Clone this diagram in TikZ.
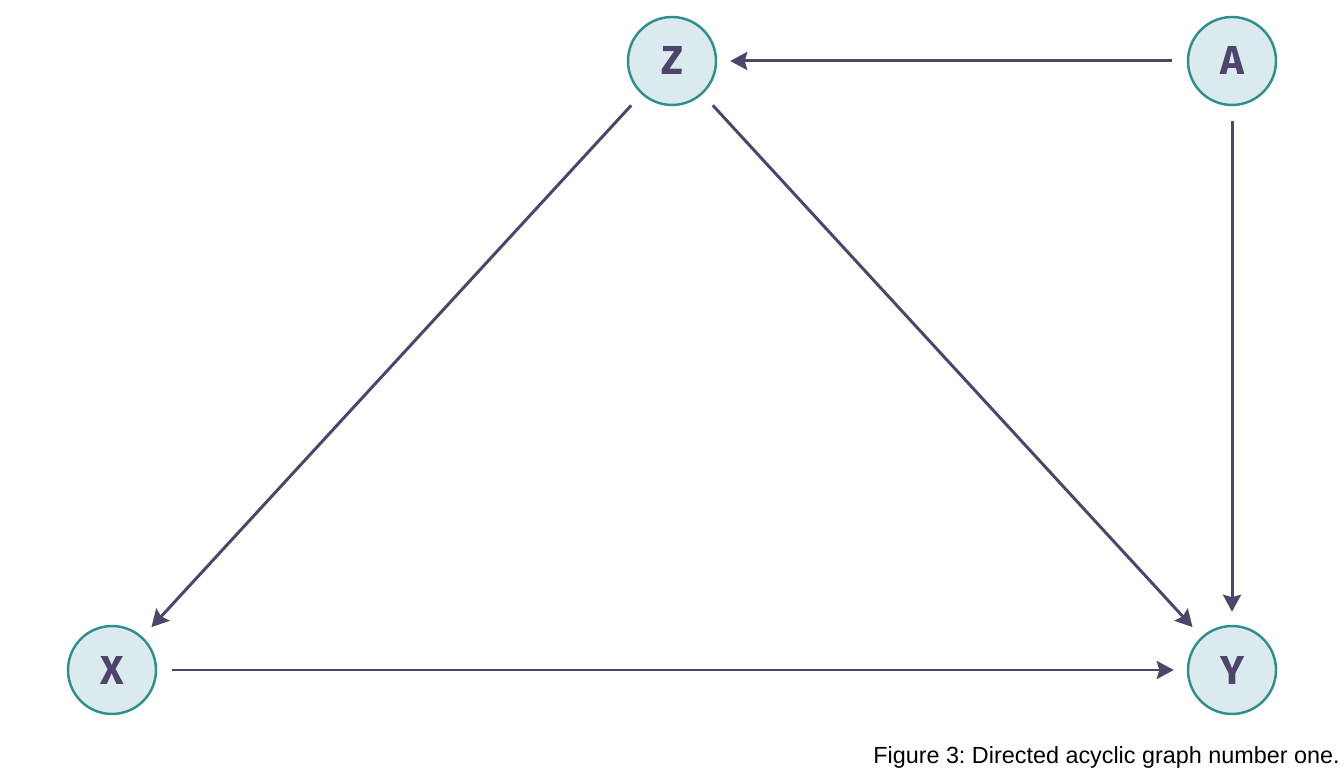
\documentclass[tikz,border=0pt]{standalone}
\usepackage{fontspec}
\setmainfont{Liberation Sans}
\newfontfamily\dagfont{Fira Sans Bold}
\usetikzlibrary{arrows.meta}
\definecolor{dagfill}{HTML}{DAEAEE}
\definecolor{dagline}{HTML}{2E8F8D}
\definecolor{dagtext}{HTML}{4F4469}
\frenchspacing
\begin{document}
\begin{tikzpicture}
  \useasboundingbox (0,0) rectangle (26.88,15.36);
  \begin{scope}[every node/.style={circle,draw=dagline,fill=dagfill,line width=1.4pt,
      minimum size=1.76cm,inner sep=0pt,text=dagtext,font=\dagfont\fontsize{23}{25}\selectfont}]
    \node (z) at (13.44,14.14) {Z};
    \node (a) at (24.64,14.14) {A};
    \node (x) at (2.24,1.96) {X};
    \node (y) at (24.64,1.96) {Y};
  \end{scope}
  \begin{scope}[every edge/.style={draw=dagtext,line width=1.7pt,shorten <=0.3cm,shorten >=0.26cm,
      -{Stealth[length=0.34cm,width=0.36cm,inset=0.05cm]}}]
    \path (a) edge (z);
    \path (a) edge (y);
    \path (z) edge (x);
    \path (z) edge (y);
    \path (x) edge (y);
  \end{scope}
  \node[anchor=base east,inner sep=0pt,font=\fontsize{13.3}{15}\selectfont] (cap) at (26.8,0.08)
    {Figure 3: Directed acyclic graph number one.};
\end{tikzpicture}
\end{document}
